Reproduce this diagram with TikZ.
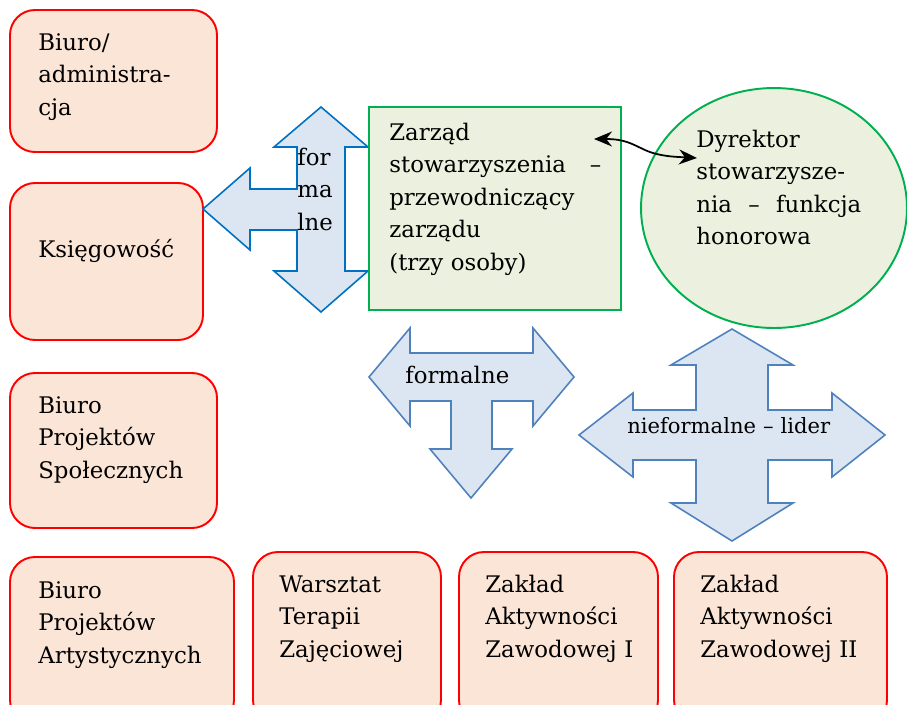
\documentclass[tikz,border=0pt]{standalone}
\usepackage{fontspec}
\setmainfont{DejaVu Serif}
\usetikzlibrary{arrows.meta,fit,shapes.geometric}
\definecolor{redline}{HTML}{FF0000}
\definecolor{peach}{HTML}{FBE5D6}
\definecolor{greenline}{HTML}{00B050}
\definecolor{lightgreen}{HTML}{EBF1DE}
\definecolor{blueline}{HTML}{0070C0}
\definecolor{steel}{HTML}{4F81BD}
\definecolor{lightblue}{HTML}{DCE6F2}
\tikzset{
  unitbox/.style={draw=redline,fill=peach,line width=1.1pt,rounded corners=0.5cm,inner sep=0pt},
  board/.style={draw=greenline,fill=lightgreen,line width=1.1pt,inner sep=0pt},
  relarrow/.style={draw=steel,fill=lightblue,line width=0.9pt,line join=miter},
  txt/.style={font=\fontsize{13}{18.5}\selectfont,align=left,inner sep=0pt,anchor=base west,text width=4.4cm},
  link/.style={{Stealth[length=3.6mm,width=3mm]}-{Stealth[length=3.6mm,width=3mm]},line width=1pt}}
\begin{document}
\begin{tikzpicture}[x=0.02cm,y=-0.02cm]
  \clip (0,0) rectangle (907,704);
  \fill[white] (0,0) rectangle (907,704);
  % left column
  \node[unitbox,fit={(10,10) (217,152)}] (adm) {};
  \node[unitbox,fit={(10,183) (203,340)}] (ksg) {};
  \node[unitbox,fit={(10,373) (217,528)}] (bps) {};
  % bottom row
  \node[unitbox,fit={(10,557) (234,725)}] (bpa) {};
  \node[unitbox,fit={(253,552) (441,725)}] (wtz) {};
  \node[unitbox,fit={(459,552) (658,725)}] (zaz1) {};
  \node[unitbox,fit={(674,552) (887,725)}] (zaz2) {};
  \node[txt] (admt) at (38,50) {Biuro/\\administra-\\cja};
  \node[txt] (ksgt) at (38,257) {Księgowość};
  \node[txt] (bpst) at (38,413) {Biuro\\Projektów\\Społecznych};
  \node[txt] (bpat) at (38,598) {Biuro\\Projektów\\Artystycznych};
  \node[txt] (wtzt) at (279,592) {Warsztat\\Terapii\\Zajęciowej};
  \node[txt] (zaz1t) at (485,592) {Zakład\\Aktywności\\Zawodowej I};
  \node[txt] (zaz2t) at (700,592) {Zakład\\Aktywności\\Zawodowej II};
  % relations
  \draw[relarrow,draw=blueline] (321,107) -- (368,147) -- (345,147) -- (345,271) -- (368,271) -- (321,312) -- (274,271) -- (297,271) -- (297,230) -- (250,230) -- (250,250) -- (203,209) -- (250,168) -- (250,189) -- (297,189) -- (297,147) -- (274,147) -- cycle;
  \draw[relarrow] (369,377) -- (410,328) -- (410,353) -- (533,353) -- (533,328) -- (574,377) -- (533,426) -- (533,401) -- (492,401) -- (492,449) -- (512,449) -- (471,498) -- (430,449) -- (451,449) -- (451,401) -- (410,401) -- (410,426) -- cycle;
  \draw[relarrow] (732,329) -- (793,365) -- (768,365) -- (768,410) -- (832,410) -- (832,393) -- (885,435) -- (832,477) -- (832,460) -- (768,460) -- (768,503) -- (793,503) -- (732,541) -- (671,503) -- (696,503) -- (696,460) -- (633,460) -- (633,477) -- (579,435) -- (633,393) -- (633,410) -- (696,410) -- (696,365) -- (671,365) -- cycle;
  \node[txt] (f1) at (297,165) {for\\ma\\lne};
  \node[txt] (f2) at (405,383) {formalne};
  \node[txt,text width=5.5cm,font=\fontsize{12}{18.5}\selectfont] (f3) at (627,433) {nieformalne – lider};
  % board and director
  \node[board,fit={(369,107) (621,310)}] (zarzad) {};
  \node[board,ellipse,minimum width=5.32cm,minimum height=4.8cm] (dyr) at (774,208) {};
  \node[txt,text width=4.24cm] (zarzadt) at (389,140) {Zarząd\\stowarzyszenia\hfill–\\przewodniczący\\zarządu\\(trzy osoby)};
  \node[txt,text width=3.3cm] (dyrt) at (696,147) {Dyrektor\\stowarzysze-\\nia\hfill–\hfill funkcja\\honorowa};
  \coordinate (zl) at (594,139);
  \coordinate (dl) at (697,158);
  \draw[link] (zl) .. controls (625,139) and (632,144) .. (645,150) .. controls (660,157) and (680,157) .. (dl);
\end{tikzpicture}
\end{document}
